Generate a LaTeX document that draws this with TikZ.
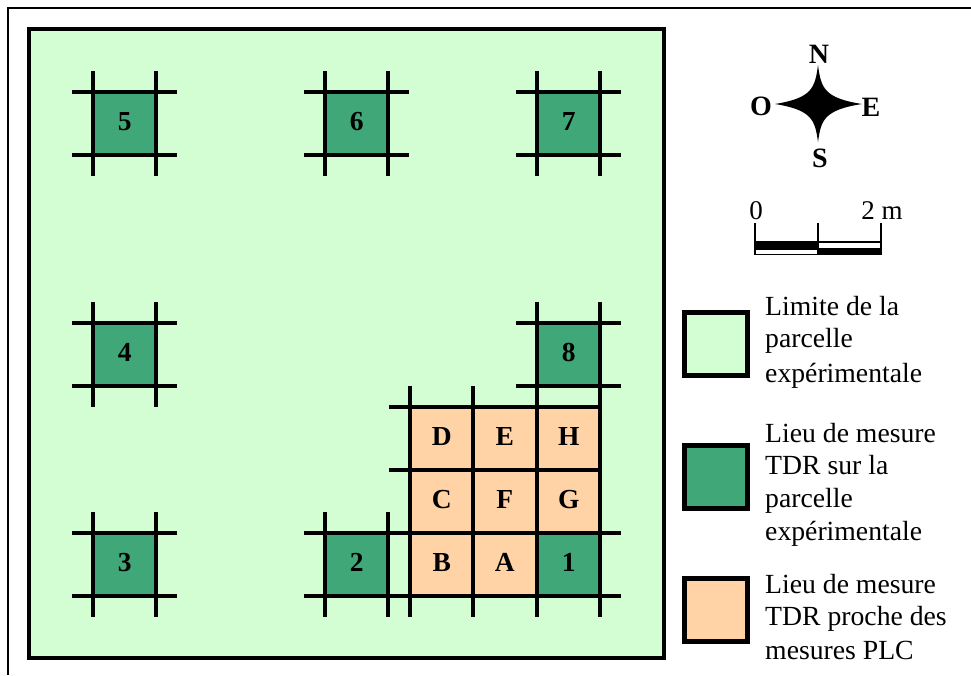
\documentclass[tikz,border=0pt]{standalone}
\usepackage{fontspec}
\setmainfont{Liberation Serif}
\usepackage{xcolor}
\definecolor{parcelgreen}{HTML}{D3FDD3}
\definecolor{tdrgreen}{HTML}{40A878}
\definecolor{plcorange}{HTML}{FFD3A6}
\tikzset{
    gridline/.style={line width=3.6pt},
    boxline/.style={line width=4.5pt, draw=black},
    cellbox/.style={minimum size=63pt, inner sep=0pt, text depth=4pt, font=\fontsize{27.5}{30}\selectfont\bfseries},
    legendtext/.style={anchor=base west, inner sep=0pt, font=\fontsize{27.7}{33}\selectfont},
    compasstext/.style={inner sep=0pt, font=\fontsize{28}{30}\selectfont\bfseries},
    scaletext/.style={inner sep=0pt, font=\fontsize{27}{30}\selectfont}
}

\begin{document}
\begin{tikzpicture}[x=1pt,y=-1pt]
    \useasboundingbox (0,0) rectangle (971,675);

    % Outer frame, open on the right and at the bottom
    \draw[line width=1.5pt] (8,675) -- (8,8) -- (971,8);

    % Plot boundary
    \draw[boxline, fill=parcelgreen] (29,29) rectangle (664,658);

    % Green cells with their crossing lines
    \foreach \x/\y/\lab in {93/92/5, 325/92/6, 537/92/7, 93/323/4, 537/323/8, 93/533/3, 325/533/2, 537/533/1} {
        \node[cellbox, fill=tdrgreen, anchor=north west] (cell\lab) at (\x,\y) {\lab};
        \draw[gridline] (\x-21,\y) -- (\x+84,\y);
        \draw[gridline] (\x-21,\y+63) -- (\x+84,\y+63);
        \draw[gridline] (\x,\y-21) -- (\x,\y+84);
        \draw[gridline] (\x+63,\y-21) -- (\x+63,\y+84);
    }

    % Orange cells
    \foreach \x/\y/\lab in {410/407/D, 473/407/E, 537/407/H, 410/470/C, 473/470/F, 537/470/G, 410/533/B, 473/533/A} {
        \node[cellbox, fill=plcorange, anchor=north west] (cell\lab) at (\x,\y) {\lab};
    }

    % Lines around the orange cells
    \foreach \x in {410, 473} {
        \draw[gridline] (\x,386) -- (\x,617);
    }
    \foreach \x in {537, 600} {
        \draw[gridline] (\x,386) -- (\x,617);
    }
    \foreach \y in {407, 470} {
        \draw[gridline] (389,\y) -- (601.8,\y);
    }
    \foreach \y in {533, 596} {
        \draw[gridline] (304,\y) -- (621,\y);
    }

    % Compass
    \fill (818,65) .. controls (821,88) and (824,98) .. (862,104)
        .. controls (824,110) and (821,120) .. (818,142)
        .. controls (815,120) and (812,110) .. (775,104)
        .. controls (812,98) and (815,88) .. (818,65) -- cycle;
    \fill (810,96) rectangle (826,112);
    \node[compasstext] (north) at (819,54) {N};
    \node[compasstext] (south) at (820,158) {S};
    \node[compasstext] (west) at (761,106) {O};
    \node[compasstext] (east) at (871,107) {E};

    % Scale bar
    \foreach \x in {755, 818, 881} {
        \draw[line width=1.5pt] (\x,223) -- (\x,255);
    }
    \draw[line width=1.8pt] (755,254.5) -- (881,254.5);
    \draw[line width=1.5pt] (818,242) -- (881,242);
    \fill (755,241) rectangle (818,250);
    \fill (818,248) rectangle (881,255);
    \node[scaletext] (zero) at (756,211) {0};
    \node[scaletext] (two) at (882,211) {2 m};

    % Legend boxes
    \foreach \y/\col in {312/parcelgreen, 445/tdrgreen, 578/plcorange} {
        \draw[line width=5pt, fill=\col] (684.5,\y) rectangle (747.5,\y+63);
    }

    % Legend texts
    \foreach \y/\txt [count=\i] in {315/Limite de la, 347/parcelle, 382/expérimentale,
        442/Lieu de mesure, 474/TDR sur la, 507/parcelle, 540/expérimentale,
        593/Lieu de mesure, 625/TDR proche des, 659/mesures PLC} {
        \node[legendtext] (legend\i) at (765,\y) {\txt};
    }
\end{tikzpicture}
\end{document}
